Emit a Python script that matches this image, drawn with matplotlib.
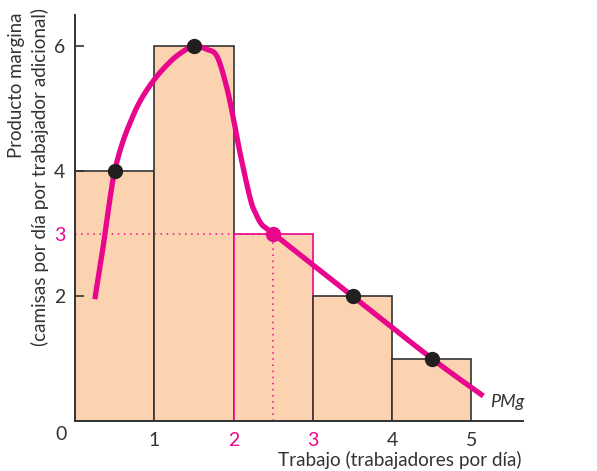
import numpy as np
import matplotlib
matplotlib.use("agg")
import matplotlib.pyplot as plt

plt.rcParams['font.family'] = ['Lato', 'DejaVu Sans']

# bars: marginal product of each worker
workers = [1, 2, 3, 4, 5]
mp_bars = [4, 6, 3, 2, 1]

# points on the PMg curve (midpoints)
dot_x = [0.5, 1.5, 3.5, 4.5]
dot_y = [4, 6, 2, 1]
pink_dot = (2.5, 3)

# PMg curve
curve_x = [0.25, 0.35, 0.44, 0.50, 0.59, 0.69, 0.82, 0.99, 1.16, 1.32, 1.50,
           1.66, 1.79, 1.91, 2.00, 2.08, 2.21, 2.28, 2.36, 2.50, 3.50, 4.50, 5.15]
curve_y = [1.95, 2.75, 3.55, 4.00, 4.42, 4.76, 5.12, 5.45, 5.70, 5.88, 6.00,
           5.95, 5.84, 5.36, 4.83, 4.30, 3.56, 3.32, 3.14, 3.00, 2.00, 1.00, 0.40]

PINK = '#E8078C'
PEACH = '#FCD3B1'
DARK = '#333333'


def smooth(xs, ys, n=12):
    # catmull-rom through the read points, just for drawing
    p = np.column_stack([xs, ys])
    p = np.vstack([p[0], p, p[-1]])
    out = []
    for i in range(1, len(p) - 2):
        p0, p1, p2, p3 = p[i - 1], p[i], p[i + 1], p[i + 2]
        for t in np.linspace(0, 1, n, endpoint=False):
            t2, t3 = t * t, t * t * t
            out.append(0.5 * ((2 * p1) + (-p0 + p2) * t +
                              (2 * p0 - 5 * p1 + 4 * p2 - p3) * t2 +
                              (-p0 + 3 * p1 - 3 * p2 + p3) * t3))
    out.append(p[-2])
    out = np.array(out)
    return out[:, 0], out[:, 1]


fig = plt.figure(figsize=(5.97, 4.71), dpi=100)
ax = fig.add_axes([75 / 597, 50 / 471, 448 / 597, 406 / 471])

for w, h in zip(workers, mp_bars):
    ec = PINK if w == 3 else DARK
    ax.bar(w - 0.5, h, width=1, color=PEACH, edgecolor=ec, linewidth=1.2, zorder=1)

# dotted guides to (2.5, 3)
ax.plot([0, pink_dot[0]], [pink_dot[1], pink_dot[1]], color=PINK, lw=1.1,
        ls=(0, (1, 3)), zorder=2)
ax.plot([pink_dot[0], pink_dot[0]], [0, pink_dot[1]], color=PINK, lw=1.1,
        ls=(0, (1, 3)), zorder=2)

sx, sy = smooth(curve_x, curve_y)
ax.plot(sx, sy, color=PINK, lw=3.8, solid_capstyle='butt', zorder=3)
ax.plot(dot_x, dot_y, 'o', color='#231F20', ms=10, zorder=4)
ax.plot([pink_dot[0]], [pink_dot[1]], 'o', color=PINK, ms=10, zorder=4)

ax.text(5.23, 0.30, 'PMg', style='italic', fontsize=13, color=DARK,
        ha='left', va='center')

ax.set_xlim(0, 5.65)
ax.set_ylim(0, 6.5)
for s in ['top', 'right']:
    ax.spines[s].set_visible(False)
for s in ['left', 'bottom']:
    ax.spines[s].set_color(DARK)
    ax.spines[s].set_linewidth(1.4)
    ax.spines[s].set_zorder(5)

ax.set_xticks(workers)
ax.set_xticklabels([str(w) for w in workers], fontsize=14, color=DARK)
ax.tick_params(axis='x', length=0, pad=8)
for lab in ax.get_xticklabels():
    if lab.get_text() in ('2', '3'):
        lab.set_color(PINK)

ax.set_yticks([2, 3, 4, 6])
ax.set_yticklabels(['2', '3', '4', '6'], fontsize=14, color=DARK)
ax.tick_params(axis='y', direction='in', length=6.5, width=1.2, color=DARK, pad=7)
for t in ax.yaxis.get_major_ticks():
    if t.label1.get_text() == '3':
        t.label1.set_color(PINK)
        t.tick1line.set_visible(False)

ax.annotate('0', xy=(0, 0), xytext=(-14, -14), textcoords='offset pixels',
            fontsize=14, color=DARK, ha='center', va='center',
            annotation_clip=False)

fig.text(522 / 597, 1 - 460 / 471, 'Trabajo (trabajadores por día)',
         fontsize=13.6, color=DARK, ha='right', va='center')
fig.text(17 / 597, 1 - 13 / 471, 'Producto margina', rotation=90,
         fontsize=13.4, color=DARK, ha='center', va='top')
fig.text(40 / 597, 1 - 8 / 471, '(camisas por día por trabajador adicional)',
         rotation=90, fontsize=13.6, color=DARK, ha='center', va='top')

fig.savefig('out.png', dpi=100)
